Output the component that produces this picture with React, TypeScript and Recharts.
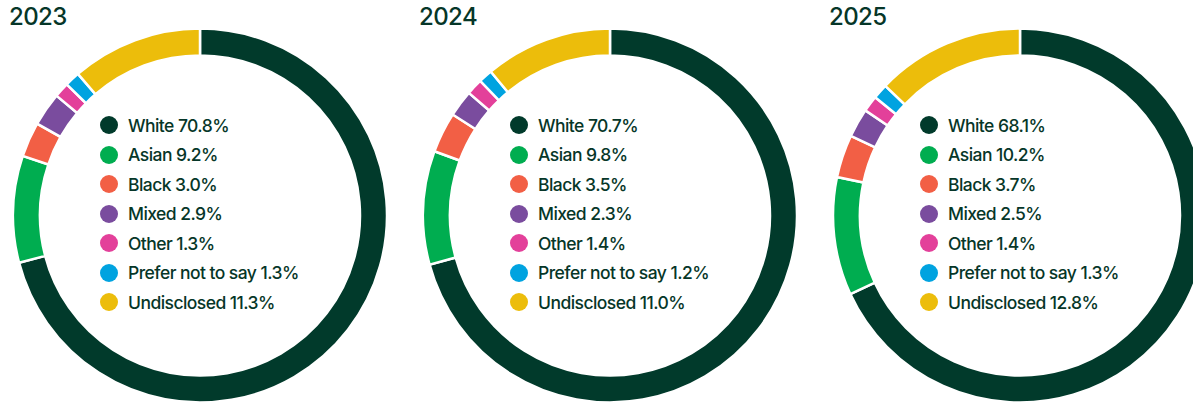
import { Pie, PieChart, Cell } from "recharts";

const categories = ["White", "Asian", "Black", "Mixed", "Other", "Prefer not to say", "Undisclosed"];
const colors = ["#013a2b", "#00ad50", "#f25f45", "#7a4c9e", "#e3409a", "#00a3e0", "#ecbd0b"];
const years = ["2023", "2024", "2025"];
const values2023 = [70.8, 9.2, 3.0, 2.9, 1.3, 1.3, 11.3];
const values2024 = [70.7, 9.8, 3.5, 2.3, 1.4, 1.2, 11.0];
const values2025 = [68.1, 10.2, 3.7, 2.5, 1.4, 1.3, 12.8];
const seriesByYear = [values2023, values2024, values2025];

const W = 1193;
const H = 403;
const CX = [200, 610, 1020];
const CY = 215.5;
const TEXT = "#063628";
const FONT = "Inter, 'Noto Sans', sans-serif";

export default function App() {
  return (
    <div style={{ position: "absolute", left: 0, top: 0, width: W, height: H, overflow: "hidden", background: "#fff", fontFamily: FONT }}>
      <PieChart width={W} height={H} margin={{ top: 0, right: 0, bottom: 0, left: 0 }}>
        {seriesByYear.map((vals, k) => (
          <Pie
            key={years[k]}
            data={categories.map((c, i) => ({ name: c, value: vals[i] }))}
            dataKey="value"
            cx={CX[k]}
            cy={CY}
            innerRadius={160}
            outerRadius={187}
            startAngle={90}
            endAngle={-270}
            stroke="#fff"
            strokeWidth={2.5}
            isAnimationActive={false}
          >
            {categories.map((c, i) => <Cell key={c} fill={colors[i]} />)}
          </Pie>
        ))}
      </PieChart>
      {years.map((y, k) => (
        <div key={y}>
          <div style={{ position: "absolute", left: CX[k] - 191, top: 2, fontSize: 24, fontWeight: 500, color: TEXT, letterSpacing: -0.6 }}>{y}</div>
          {categories.map((c, i) => (
            <div key={c} style={{ position: "absolute", left: CX[k] - 100, top: 125 + i * 29.5 - 12, height: 24, display: "flex", alignItems: "center", whiteSpace: "nowrap" }}>
              <span style={{ width: 18, height: 18, borderRadius: "50%", background: colors[i], display: "inline-block", marginRight: 10 }} />
              <span style={{ fontSize: 17.5, fontWeight: 500, color: TEXT, letterSpacing: -0.55 }}>{`${c} ${seriesByYear[k][i].toFixed(1)}%`}</span>
            </div>
          ))}
        </div>
      ))}
    </div>
  );
}
